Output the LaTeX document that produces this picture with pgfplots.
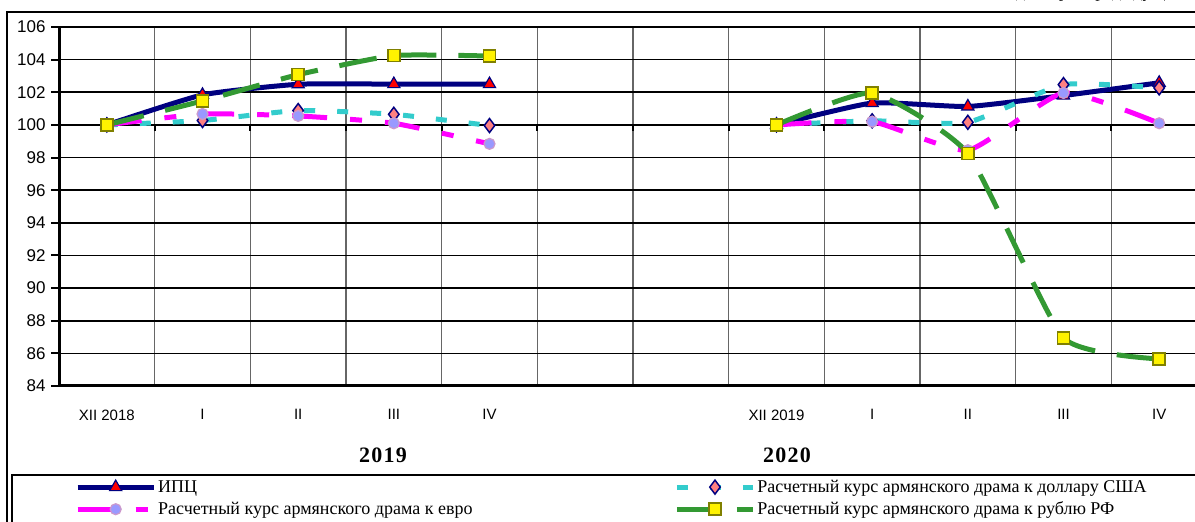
\documentclass[border=0pt]{standalone}
\usepackage{fontspec}
\setmainfont{Liberation Serif}
\newfontfamily\arial{Liberation Sans}
\usepackage{pgfplots}
\pgfplotsset{compat=1.18}

\definecolor{ipc}{HTML}{000080}
\definecolor{eur}{HTML}{FF00FF}
\definecolor{eurmk}{HTML}{9999FF}
\definecolor{eurbd}{HTML}{CC99CC}
\definecolor{usd}{HTML}{33CCCC}
\definecolor{usdmk}{HTML}{FF8080}
\definecolor{rub}{HTML}{339933}
\definecolor{rubbd}{HTML}{808000}

\begin{document}
\begin{tikzpicture}[x=1pt,y=1pt]
\useasboundingbox (0,0) rectangle (1195,522);
% outer frame and legend box
\draw[line width=2pt] (7,-20) -- (7,510) -- (1220,510);
\draw[line width=2pt] (12,-20) -- (12,47) -- (1220,47);
\node[anchor=base east, font=\fontsize{18}{20}\selectfont] at (1230,524) {в \% к декабрю предыдущего года};

\begin{axis}[
  at={(59pt,136pt)}, anchor=south west,
  scale only axis, width=1148pt, height=359pt,
  xmin=-0.5, xmax=11.5, ymin=84, ymax=106,
  ytick={84,86,...,106},
  xtick={0,...,11},
  xticklabels={XII 2018,I,II,III,IV,,,XII 2019,I,II,III,IV},
  minor xtick={0.5,1.5,...,10.5},
  axis x line*=bottom, axis y line*=left,
  axis line style={line width=3pt,-},
  ymajorgrids, xminorgrids,
  major grid style={line width=1.6pt, black},
  minor grid style={line width=1.4pt, black!60},
  tick align=outside,
  major tick length=8pt, minor tick length=0pt,
  xtick style={draw=none},
  ytick style={line width=2pt, black},
  /pgf/number format/assume math mode=true,
  yticklabel style={font=\arial\fontsize{17}{20}\selectfont, xshift=-2pt},
  xticklabel style={font=\arial\fontsize{15}{18}\selectfont, yshift=-12pt},
  clip=false,
  legend columns=2,
  legend cell align=left,
  legend style={at={([xshift=16pt,yshift=-92pt]axis description cs:0,0)}, anchor=north west,
    draw=none, fill=none, inner sep=0pt,
    font=\fontsize{18}{20}\selectfont,
    nodes={inner sep=2pt},
    row sep=4pt,
    /tikz/every even column/.append style={column sep=200pt}},
  legend image code/.code={\draw[sharp plot, mark repeat=2,mark phase=2] plot coordinates {(0pt,0pt) (38pt,0pt) (76pt,0pt)};},
]
% ticks on the 100 line
\pgfplotsinvokeforeach{0.5,1.5,...,10.5}{\draw[line width=2pt] (axis cs:#1,100) -- ([yshift=-6pt]axis cs:#1,100);}
\draw[line width=2.4pt] (axis cs:-0.5,100) -- (axis cs:11.5,100);

% ИПЦ
\addplot[ipc, line width=5pt, smooth, tension=0.3, mark=triangle*, mark size=7pt,
  mark options={solid, fill=red, draw=ipc, line width=1.2pt}]
  coordinates {(0,100) (1,101.84) (2,102.49) (3,102.5) (4,102.5)};
\addlegendentry{ИПЦ}
\addplot[forget plot, ipc, line width=5pt, smooth, tension=0.3, mark=triangle*, mark size=7pt,
  mark options={solid, fill=red, draw=ipc, line width=1.2pt}]
  coordinates {(7,100) (8,101.34) (9,101.13) (10,101.8) (11,102.58)};

% USD
\addplot[usd, line width=5pt, smooth, tension=0.3, dash pattern=on 11pt off 22pt,
  mark=diamond*, mark size=7pt, mark options={solid, fill=usdmk, draw=ipc, line width=1.5pt}]
  coordinates {(0,100) (1,100.27) (2,100.88) (3,100.65) (4,99.96)};
\addlegendentry{Расчетный курс армянского драма к доллару США}
\addplot[forget plot, usd, line width=5pt, smooth, tension=0.3, dash pattern=on 11pt off 22pt,
  mark=diamond*, mark size=7pt, mark options={solid, fill=usdmk, draw=ipc, line width=1.5pt}]
  coordinates {(7,100) (8,100.25) (9,100.16) (10,102.47) (11,102.27)};

% EUR
\addplot[eur, line width=5pt, smooth, tension=0.3, dash pattern=on 35pt off 23pt on 12pt off 23pt,
  mark=*, mark size=5.5pt, mark options={solid, fill=eurmk, draw=eurbd, line width=1.2pt}]
  coordinates {(0,100) (1,100.67) (2,100.55) (3,100.1) (4,98.84)};
\addlegendentry{Расчетный курс армянского драма к евро}
\addplot[forget plot, eur, line width=5pt, smooth, tension=0.3, dash pattern=on 35pt off 23pt on 12pt off 23pt,
  mark=*, mark size=5.5pt, mark options={solid, fill=eurmk, draw=eurbd, line width=1.2pt}]
  coordinates {(7,100) (8,100.2) (9,98.45) (10,101.96) (11,100.1)};

% RUB
\addplot[rub, line width=5pt, smooth, tension=0.3, dash pattern=on 38pt off 22pt,
  mark=square*, mark size=6pt, mark options={solid, fill=yellow, draw=rubbd, line width=1.5pt}]
  coordinates {(0,100) (1,101.47) (2,103.08) (3,104.25) (4,104.22)};
\addlegendentry{Расчетный курс армянского драма к рублю РФ}
\addplot[forget plot, rub, line width=5pt, smooth, tension=0.3, dash pattern=on 38pt off 22pt,
  mark=square*, mark size=6pt, mark options={solid, fill=yellow, draw=rubbd, line width=1.5pt}]
  coordinates {(7,100) (8,101.96) (9,98.25) (10,86.95) (11,85.66)};
\end{axis}

\node[font=\bfseries\fontsize{22}{24}\selectfont\addfontfeature{LetterSpace=6}] at (383,67) {2019};
\node[font=\bfseries\fontsize{22}{24}\selectfont\addfontfeature{LetterSpace=6}] at (787,67) {2020};
\end{tikzpicture}
\end{document}
